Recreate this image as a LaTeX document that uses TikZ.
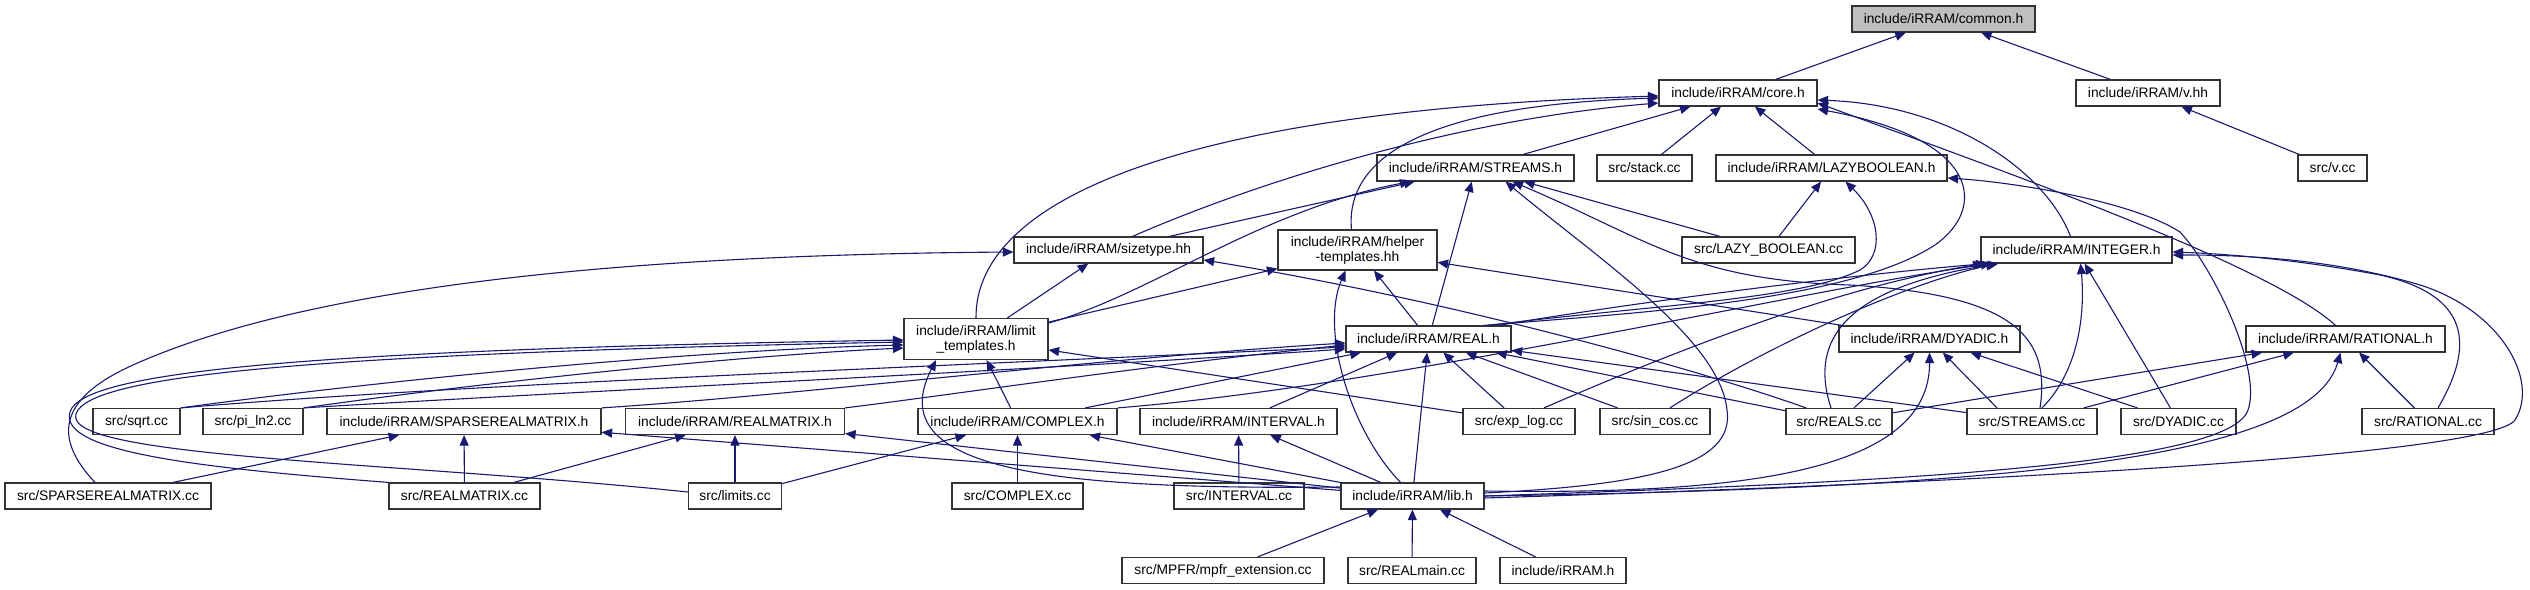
\documentclass[tikz,border=0pt]{standalone}
\usepackage{fontspec}
\setmainfont{Liberation Sans}
\usetikzlibrary{arrows.meta}
\definecolor{edgeblue}{RGB}{25,25,112}
\definecolor{focusgray}{RGB}{191,191,191}
\tikzset{
    filebox/.style={rectangle, draw=black!80, line width=1.2pt, fill=white, minimum height=26pt, inner sep=0pt, align=center, font=\fontsize{13.8}{15}\selectfont},
    focusbox/.style={filebox, fill=focusgray},
    inclarr/.style={-{Triangle[length=10.5pt,width=9pt]}, edgeblue, line width=1.1pt},
}
\begin{document}
\begin{tikzpicture}[x=1pt,y=-1pt]
\fill[white] (0,0) rectangle (2530,589);
\useasboundingbox (0,0) rectangle (2530,589);

\node[focusbox,minimum width=183pt] (common) at (1943.5,19) {include/iRRAM/common.h};
\node[filebox,minimum width=158pt] (core) at (1738,93) {include/iRRAM/core.h};
\node[filebox,minimum width=144pt] (vhh) at (2148,93) {include/iRRAM/v.hh};
\node[filebox,minimum width=197pt] (streamsh) at (1475.5,168) {include/iRRAM/STREAMS.h};
\node[filebox,minimum width=95pt] (stack) at (1644.5,168) {src/stack.cc};
\node[filebox,minimum width=231pt] (lazyh) at (1831.5,168) {include/iRRAM/LAZYBOOLEAN.h};
\node[filebox,minimum width=69pt] (vcc) at (2332.5,168) {src/v.cc};
\node[filebox,minimum width=189pt] (sizetype) at (1108.5,250) {include/iRRAM/sizetype.hh};
\node[filebox,minimum width=159pt,minimum height=40pt] (helper) at (1357.5,250) {include/iRRAM/helper\\-templates.hh};
\node[filebox,minimum width=173pt] (lazycc) at (1768.5,250) {src/LAZY\_BOOLEAN.cc};
\node[filebox,minimum width=191pt] (integerh) at (2076.5,250) {include/iRRAM/INTEGER.h};
\node[filebox,minimum width=144pt,minimum height=41pt] (limit) at (976,339) {include/iRRAM/limit\\\_templates.h};
\node[filebox,minimum width=165pt] (realh) at (1428.5,339) {include/iRRAM/REAL.h};
\node[filebox,minimum width=181pt] (dyadich) at (1929.5,339) {include/iRRAM/DYADIC.h};
\node[filebox,minimum width=199pt] (rationalh) at (2345.5,339) {include/iRRAM/RATIONAL.h};

\node[filebox,minimum width=87pt] (sqrt) at (136.5,421.5) {src/sqrt.cc};
\node[filebox,minimum width=100pt] (pi) at (253,421.5) {src/pi\_ln2.cc};
\node[filebox,minimum width=274pt] (sparseh) at (464,421.5) {include/iRRAM/SPARSEREALMATRIX.h};
\node[filebox,minimum width=219pt] (rmatrixh) at (735,421.5) {include/iRRAM/REALMATRIX.h};
\node[filebox,minimum width=199pt] (complexh) at (1017.5,421.5) {include/iRRAM/COMPLEX.h};
\node[filebox,minimum width=197pt] (intervalh) at (1238.5,421.5) {include/iRRAM/INTERVAL.h};
\node[filebox,minimum width=112pt] (explog) at (1519,421.5) {src/exp\_log.cc};
\node[filebox,minimum width=110pt] (sincos) at (1655,421.5) {src/sin\_cos.cc};
\node[filebox,minimum width=106pt] (realscc) at (1839,421.5) {src/REALS.cc};
\node[filebox,minimum width=130pt] (streamscc) at (2032,421.5) {src/STREAMS.cc};
\node[filebox,minimum width=115pt] (dyadiccc) at (2178.5,421.5) {src/DYADIC.cc};
\node[filebox,minimum width=132pt] (rationalcc) at (2428,421.5) {src/RATIONAL.cc};

\node[filebox,minimum width=206pt] (sparsecc) at (108,496) {src/SPARSEREALMATRIX.cc};
\node[filebox,minimum width=151pt] (rmatrixcc) at (464.5,496) {src/REALMATRIX.cc};
\node[filebox,minimum width=93pt] (limitscc) at (735,496) {src/limits.cc};
\node[filebox,minimum width=131pt] (complexcc) at (1017.5,496) {src/COMPLEX.cc};
\node[filebox,minimum width=130pt] (intervalcc) at (1239,496) {src/INTERVAL.cc};
\node[filebox,minimum width=143pt] (libh) at (1412.5,496) {include/iRRAM/lib.h};

\node[filebox,minimum width=202pt] (mpfr) at (1223,570.5) {src/MPFR/mpfr\_extension.cc};
\node[filebox,minimum width=128pt] (realmain) at (1412,570.5) {src/REALmain.cc};
\node[filebox,minimum width=126pt] (irramh) at (1563,570.5) {include/iRRAM.h};

\draw[inclarr] (core) -- (common);
\draw[inclarr] (vhh) -- (common);
\draw[inclarr] (vcc) -- (vhh);
\draw[inclarr] (streamsh) -- (core);
\draw[inclarr] (stack) -- (core);
\draw[inclarr] (lazyh) -- (core);
\draw[inclarr] ([xshift=24pt]sizetype.north) .. controls (1250,185) and (1450,120) .. ([yshift=-10pt]core.west);
\draw[inclarr] ([xshift=-6pt]helper.north) .. controls (1345,160) and (1420,105) .. ([yshift=-5pt]core.west);
\draw[inclarr] (limit.north) .. controls (975,200) and (1180,110) .. ([yshift=-3pt]core.west);
\draw[inclarr] ([xshift=-6pt]integerh.north) .. controls (2045,170) and (1950,105) .. ([yshift=-7pt]core.east);
\draw[inclarr] ([xshift=-10pt]rationalh.north) .. controls (2270,265) and (2000,170) .. ([yshift=-10pt]core.east);
\draw[inclarr] ([xshift=55pt]realh.north) .. controls (1650,312) and (1850,300) .. (1935,245) .. controls (1985,210) and (1985,140) .. ([yshift=-16pt]core.east);

\draw[inclarr] (lazycc) -- (lazyh);
\draw[inclarr] (lazycc) -- (streamsh);
\draw[inclarr] (sizetype) -- (streamsh);
\draw[inclarr] ([yshift=16pt]limit.east) .. controls (1150,295) and (1260,210) .. ([xshift=-65pt]streamsh.south);
\draw[inclarr] (limit) -- (helper);
\draw[inclarr] (limit) -- (sizetype);
\draw[inclarr] (realh) -- (streamsh);
\draw[inclarr] (realh) -- (helper);
\draw[inclarr] ([xshift=60pt]realh.north) .. controls (1650,305) and (1800,300) .. (1860,270) .. controls (1885,255) and (1880,215) .. ([xshift=14pt]lazyh.south);
\draw[inclarr] ([xshift=70pt]realh.north) .. controls (1650,300) and (1850,275) .. ([xshift=-90pt]integerh.south);

\draw[inclarr] ([yshift=3pt]libh.east) .. controls (1650,485) and (1735,465) .. (1727,410) .. controls (1720,340) and (1600,260) .. ([xshift=30pt]streamsh.south);
\draw[inclarr] ([xshift=-12pt]libh.north) .. controls (1350,430) and (1320,330) .. ([xshift=-12pt]helper.south);
\draw[inclarr] (libh) -- (realh);
\draw[inclarr] (libh) -- (complexh);
\draw[inclarr] (libh) -- (intervalh);
\draw[inclarr] ([yshift=9pt]libh.west) .. controls (1050,490) and (880,470) .. ([xshift=-40pt]limit.south);
\draw[inclarr] (libh) -- (sparseh);
\draw[inclarr] (libh) -- (rmatrixh);
\draw[inclarr] (libh.east) .. controls (1900,482) and (2230,465) .. (2248,410) .. controls (2262,370) and (2215,270) .. (2180,232) .. controls (2130,200) and (2010,182) .. ([yshift=-10pt]lazyh.east);
\draw[inclarr] ([yshift=-2pt]libh.east) .. controls (2000,482) and (2490,455) .. (2515,420) .. controls (2540,380) and (2500,310) .. (2420,285) .. controls (2330,258) and (2240,255) .. ([yshift=-5pt]integerh.east);
\draw[inclarr] ([yshift=5pt]libh.east) .. controls (1750,495) and (1930,470) .. (dyadich.south);
\draw[inclarr] (libh.east) .. controls (2000,488) and (2310,460) .. ([xshift=-5pt]rationalh.south);

\draw[inclarr] (dyadich) -- (helper);
\draw[inclarr] (complexh) -- (realh);
\draw[inclarr] (complexh) -- (limit);
\draw[inclarr] (complexh.north east) .. controls (1400,385) and (1800,290) .. ([xshift=-85pt]integerh.south);
\draw[inclarr] (intervalh) -- (realh);
\draw[inclarr] (sparseh.north east) .. controls (800,395) and (1100,358) .. ([yshift=-4pt]realh.west);
\draw[inclarr] (rmatrixh.north east) .. controls (950,395) and (1150,365) .. ([yshift=-6pt]realh.west);
\draw[inclarr] (sqrt.north east) .. controls (400,378) and (700,350) .. ([yshift=-6pt]limit.west);
\draw[inclarr] (sqrt.north east) .. controls (450,385) and (900,368) .. ([yshift=-8pt]realh.west);
\draw[inclarr] (pi.north east) .. controls (500,380) and (750,355) .. ([yshift=-9pt]limit.west);
\draw[inclarr] (pi.north east) .. controls (600,390) and (1000,372) .. ([yshift=-10pt]realh.west);

\draw[inclarr] (explog) -- (realh);
\draw[inclarr] ([xshift=25pt]explog.north) .. controls (1700,340) and (1850,285) .. ([xshift=-93pt]integerh.south);
\draw[inclarr] (explog) -- (limit);
\draw[inclarr] (sincos) -- (realh);
\draw[inclarr] ([xshift=15pt]sincos.north) .. controls (1760,350) and (1900,285) .. ([xshift=-80pt]integerh.south);
\draw[inclarr] (realscc) -- (realh);
\draw[inclarr] ([xshift=-8pt]realscc.north) .. controls (1812,350) and (1830,290) .. ([xshift=-78pt]integerh.south);
\draw[inclarr] (realscc) -- (dyadich);
\draw[inclarr] (realscc) -- (rationalh);
\draw[inclarr] ([xshift=-33pt]realscc.north) .. controls (1700,370) and (1450,300) .. ([yshift=-10pt]sizetype.east);
\draw[inclarr] ([xshift=8pt]streamscc.north) .. controls (2050,340) and (2020,295) .. (1850,285) .. controls (1690,280) and (1650,240) .. ([xshift=37pt]streamsh.south);
\draw[inclarr] (streamscc) -- (realh);
\draw[inclarr] ([xshift=10pt]streamscc.north) .. controls (2080,370) and (2085,310) .. ([xshift=4pt]integerh.south);
\draw[inclarr] ([xshift=-35pt]streamscc.north) -- (dyadich);
\draw[inclarr] (streamscc) -- (rationalh);
\draw[inclarr] (dyadiccc) -- (dyadich);
\draw[inclarr] (dyadiccc) -- (integerh);
\draw[inclarr] (rationalcc) -- (rationalh);
\draw[inclarr] ([xshift=10pt]rationalcc.north) .. controls (2475,345) and (2470,295) .. (2380,275) .. controls (2300,260) and (2230,254) .. ([yshift=-2pt]integerh.east);

\draw[inclarr] (sparsecc) -- (sparseh);
\draw[inclarr] ([xshift=-13pt]sparsecc.north) .. controls (55,440) and (55,400) .. (133,365) .. controls (300,290) and (600,255) .. ([yshift=-2pt]sizetype.west);
\draw[inclarr] (rmatrixcc) -- (rmatrixh);
\draw[inclarr] (rmatrixcc) -- (sparseh);
\draw[inclarr] (rmatrixcc.north west) .. controls (200,468) and (58,452) .. (70,412) .. controls (82,372) and (300,350) .. ([yshift=-1pt]limit.west);
\draw[inclarr] ([yshift=4pt]limitscc.west) .. controls (400,462) and (62,458) .. (76,414) .. controls (88,376) and (300,354) .. ([yshift=-3pt]limit.west);
\draw[inclarr] (limitscc) -- (rmatrixh);
\draw[inclarr] (limitscc) -- (complexh);
\draw[inclarr] (complexcc) -- (complexh);
\draw[inclarr] (intervalcc) -- (intervalh);
\draw[inclarr] (mpfr) -- (libh);
\draw[inclarr] (realmain) -- (libh);
\draw[inclarr] (irramh) -- (libh);
\end{tikzpicture}
\end{document}
